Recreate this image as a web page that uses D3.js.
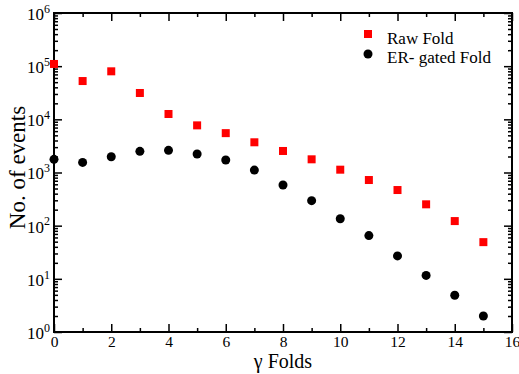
<!DOCTYPE html>
<html>
<head>
<meta charset="utf-8">
<script src="https://cdn.jsdelivr.net/npm/d3@7"></script>
<style>
  body { margin: 0; background: #fff; }
  svg text { font-family: "Liberation Serif", "DejaVu Serif", serif; }
</style>
</head>
<body>
<svg id="chart" width="519" height="374"></svg>
<script>
// data
const folds = [0, 1, 2, 3, 4, 5, 6, 7, 8, 9, 10, 11, 12, 13, 14, 15];
const rawFold = [110000, 52500, 80000, 31300, 12600, 7700, 5500, 3700, 2540, 1770, 1130, 722, 468, 252, 122, 49];
const erGatedFold = [1770, 1550, 1980, 2500, 2610, 2230, 1720, 1110, 582, 295, 135, 65, 27, 11.6, 4.9, 2];
const xTicks = [0, 2, 4, 6, 8, 10, 12, 14, 16];
const yDecades = [1, 10, 100, 1000, 10000, 100000, 1000000];

const svg = d3.select("#chart"),
  margin = { top: 13, right: 7, bottom: 42, left: 54 },
  width = +svg.attr("width") - margin.left - margin.right,
  height = +svg.attr("height") - margin.top - margin.bottom,
  g = svg.append("g").attr("transform", "translate(" + margin.left + "," + margin.top + ")");

const x = d3.scaleLinear().domain([0, 16]).range([0, width]);
const y = d3.scaleLog().domain([1, 1e6]).range([height, 0]);

// minor ticks
const xMinor = d3.range(1, 16, 2);
const yMinor = [];
yDecades.slice(0, -1).forEach((d) => {
  for (let k = 2; k <= 9; k++) yMinor.push(d * k);
});

function styleAxis(sel) {
  sel.select(".domain").remove();
  sel.selectAll(".tick line").attr("stroke", "#000").attr("stroke-width", 1.5);
}

// bottom
g.append("g")
  .attr("transform", "translate(0," + height + ")")
  .call(d3.axisBottom(x).tickValues(xTicks).tickSize(-8).tickPadding(4).tickFormat(d3.format("d")))
  .call(styleAxis)
  .call((a) => a.selectAll("text").attr("font-size", 15.5).attr("fill", "#000"));
g.append("g")
  .attr("transform", "translate(0," + height + ")")
  .call(d3.axisBottom(x).tickValues(xMinor).tickSize(-4).tickFormat(""))
  .call(styleAxis);

// top
g.append("g")
  .call(d3.axisTop(x).tickValues(xTicks).tickSize(-8).tickFormat(""))
  .call(styleAxis);
g.append("g")
  .call(d3.axisTop(x).tickValues(xMinor).tickSize(-4).tickFormat(""))
  .call(styleAxis);

// left
g.append("g")
  .call(d3.axisLeft(y).tickValues(yDecades).tickSize(-8).tickPadding(4).tickFormat((d) => Math.round(Math.log10(d))))
  .call(styleAxis)
  .call((a) =>
    a.selectAll("text").each(function (d) {
      const t = d3.select(this);
      const e = Math.round(Math.log10(d));
      t.text("").attr("font-size", 17).attr("fill", "#000").attr("dy", "0.38em");
      t.append("tspan").text("10");
      t.append("tspan").attr("font-size", 12).attr("dy", "-0.6em").text(e);
    })
  );
g.append("g")
  .call(d3.axisLeft(y).tickValues(yMinor).tickSize(-4).tickFormat(""))
  .call(styleAxis);

// right
g.append("g")
  .attr("transform", "translate(" + width + ",0)")
  .call(d3.axisRight(y).tickValues(yDecades).tickSize(-8).tickFormat(""))
  .call(styleAxis);
g.append("g")
  .attr("transform", "translate(" + width + ",0)")
  .call(d3.axisRight(y).tickValues(yMinor).tickSize(-4).tickFormat(""))
  .call(styleAxis);

// frame
g.append("rect")
  .attr("width", width)
  .attr("height", height)
  .attr("fill", "none")
  .attr("stroke", "#000")
  .attr("stroke-width", 2);

// series
const sq = 8;
g.append("g")
  .selectAll("rect")
  .data(folds)
  .enter()
  .append("rect")
  .attr("x", (d) => x(d) - sq / 2)
  .attr("y", (d, i) => y(rawFold[i]) - sq / 2)
  .attr("width", sq)
  .attr("height", sq)
  .attr("fill", "#ff0000");

g.append("g")
  .selectAll("circle")
  .data(folds)
  .enter()
  .append("circle")
  .attr("cx", (d) => x(d))
  .attr("cy", (d, i) => y(erGatedFold[i]))
  .attr("r", 4.5)
  .attr("fill", "#000");

// legend
const legend = svg.append("g").attr("transform", "translate(368,0)");
legend.append("rect").attr("x", -4).attr("y", 30).attr("width", 8).attr("height", 8).attr("fill", "#ff0000");
legend.append("text").attr("x", 19).attr("y", 44).attr("font-size", 17).text("Raw Fold");
legend.append("circle").attr("cx", 0).attr("cy", 54).attr("r", 4.5).attr("fill", "#000");
legend.append("text").attr("x", 19).attr("y", 63).attr("font-size", 17).text("ER- gated Fold");

// axis titles
svg.append("text")
  .attr("x", margin.left + x(8))
  .attr("y", 368)
  .attr("text-anchor", "middle")
  .attr("font-size", 20)
  .text("γ Folds");

svg.append("text")
  .attr("transform", "translate(25," + (margin.top + height / 2 - 5) + ") rotate(-90)")
  .attr("text-anchor", "middle")
  .attr("font-size", 23)
  .text("No. of events");
</script>
</body>
</html>
